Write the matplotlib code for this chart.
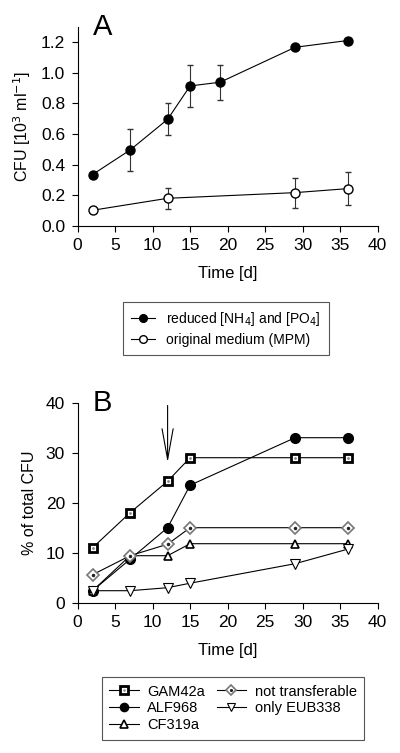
import matplotlib.pyplot as plt

plt.rcParams['font.family'] = ['Liberation Sans', 'DejaVu Sans']

# panel A
days_red = [2, 7, 12, 15, 19, 29, 36]
cfu_red = [0.335, 0.495, 0.695, 0.913, 0.937, 1.165, 1.209]
err_red = [0.0, 0.135, 0.105, 0.135, 0.115, 0.0, 0.0]
days_orig = [2, 12, 29, 36]
cfu_orig = [0.102, 0.18, 0.217, 0.243]
err_orig = [0.02, 0.07, 0.097, 0.107]

# panel B
days_b = [2, 7, 12, 15, 29, 36]
gam42a = [11.0, 18.0, 24.3, 29.0, 29.0, 29.0]
alf968 = [2.4, 8.7, 15.0, 23.5, 33.0, 33.0]
cf319a = [2.4, 9.4, 9.4, 11.8, 11.8, 11.8]
not_transf = [5.6, 9.4, 11.7, 15.0, 15.0, 15.0]
only_eub = [2.4, 2.4, 3.0, 3.9, 7.8, 10.7]

fig = plt.figure(figsize=(4.0, 7.53), dpi=100)
axA = fig.add_axes([0.194, 0.700, 0.75, 0.2647])
axB = fig.add_axes([0.194, 0.1996, 0.75, 0.2656])

for ax in (axA, axB):
    ax.spines['top'].set_visible(False)
    ax.spines['right'].set_visible(False)
    ax.tick_params(direction='out', length=4, width=0.8, labelsize=12.5, pad=5)
    ax.set_xlim(0, 40)
    ax.set_xticks(range(0, 41, 5))
    ax.set_xlabel('Time [d]', fontsize=12, labelpad=9)

# A
l1 = axA.errorbar(days_red, cfu_red, yerr=err_red, fmt='-o', color='black',
                  mfc='black', mec='black', ms=6.5, lw=0.8, elinewidth=0.8,
                  capsize=2.5, ecolor='#333333')
l2 = axA.errorbar(days_orig, cfu_orig, yerr=err_orig, fmt='-o', color='black',
                  mfc='white', mec='black', ms=6.5, lw=0.8, elinewidth=0.8,
                  capsize=2.5, ecolor='#333333')
axA.set_ylim(0, 1.3)
axA.set_yticks([0.0, 0.2, 0.4, 0.6, 0.8, 1.0, 1.2])
axA.set_yticklabels(['0.0', '0.2', '0.4', '0.6', '0.8', '1.0', '1.2'])
axA.set_ylabel('CFU [10$^3$ ml$^{-1}$]', fontsize=11.5, labelpad=6)
axA.text(0.05, 1.0, 'A', transform=axA.transAxes, fontsize=21, va='center')

legA = fig.legend([l1.lines[0], l2.lines[0]],
                  ['reduced [NH$_4$] and [PO$_4$]', 'original medium (MPM)'],
                  loc='center', bbox_to_anchor=(0.565, 0.5637), fontsize=10,
                  fancybox=False, edgecolor='#555555', framealpha=1,
                  handlelength=1.7, borderpad=0.6, labelspacing=0.35,
                  markerscale=0.85)
legA.get_frame().set_linewidth(0.8)

# B
h_gam, = axB.plot(days_b, gam42a, '-s', color='black', mfc='white', mec='black',
                  mew=2.0, ms=6, lw=0.8)
d_gam, = axB.plot(days_b, gam42a, '.', color='#888888', ms=2, lw=0)
h_alf, = axB.plot(days_b, alf968, '-o', color='black', mfc='black', ms=7, lw=0.8)
h_cf, = axB.plot(days_b, cf319a, '-^', color='black', mfc='white', mec='black',
                 mew=1.2, ms=6, lw=0.8)
h_nt, = axB.plot(days_b, not_transf, '-D', color='black', mfc='white', mec='#777777',
                 mew=1.2, ms=6, lw=0.8)
d_nt, = axB.plot(days_b, not_transf, '.', color='#222222', ms=3, lw=0)
h_eub, = axB.plot(days_b, only_eub, '-v', color='black', mfc='white', mec='black',
                  mew=0.8, ms=7, lw=0.8)
axB.set_ylim(0, 40)
axB.set_yticks([0, 10, 20, 30, 40])
axB.set_ylabel('% of total CFU', fontsize=11.5, labelpad=6)
axB.text(0.05, 1.0, 'B', transform=axB.transAxes, fontsize=21, va='center')
axB.annotate('', xy=(12, 27.5), xytext=(12, 40),
             arrowprops=dict(arrowstyle='->,head_length=2.2,head_width=0.4',
                             color='black', lw=0.8))

legB = fig.legend([(h_gam, d_gam), h_alf, h_cf, (h_nt, d_nt), h_eub],
                  ['GAM42a', 'ALF968', 'CF319a', 'not transferable', 'only EUB338'],
                  loc='center', bbox_to_anchor=(0.5825, 0.0591), ncol=2,
                  fontsize=10.5, fancybox=False, edgecolor='#555555', framealpha=1,
                  handlelength=2.0, borderpad=0.5, labelspacing=0.2,
                  columnspacing=0.8, handletextpad=0.6, markerscale=0.85)
legB.get_frame().set_linewidth(0.8)

fig.savefig('out.png', dpi=100)
